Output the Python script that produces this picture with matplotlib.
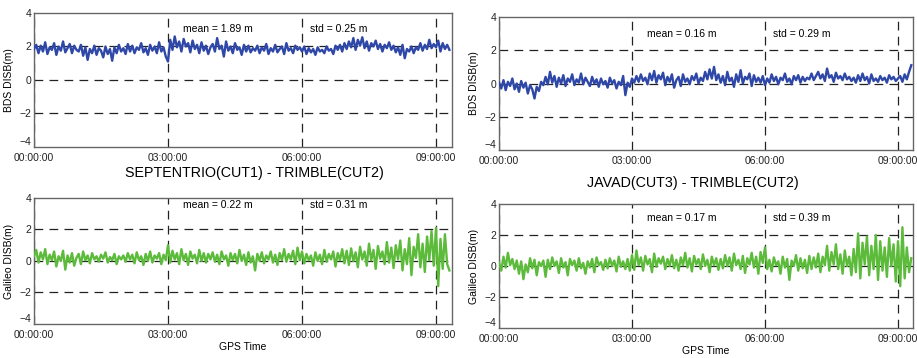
import numpy as np
import matplotlib
matplotlib.use("Agg")
import matplotlib.pyplot as plt
from matplotlib.ticker import FuncFormatter

plt.rcParams['font.family'] = ['Liberation Sans', 'DejaVu Sans']

# values sampled every 3 minutes (0.05 h)
bds_sept = [
    1.85,2.10,1.60,2.05,1.70,2.25,1.55,1.95,1.80,2.20,1.50,2.00,1.75,2.30,1.65,1.90,2.15,1.60,2.05,1.80,
    1.70,2.10,1.45,1.95,1.20,1.85,1.60,2.05,1.50,1.90,1.75,1.35,2.00,1.55,1.85,1.15,1.95,1.60,2.10,1.70,
    1.90,1.55,2.15,1.70,2.05,1.60,1.95,1.80,2.20,1.65,1.90,1.50,2.10,1.75,2.00,1.60,2.25,1.70,1.95,1.40,
    1.10,2.40,1.80,2.60,1.95,2.30,1.70,2.45,2.00,2.20,1.65,2.35,1.85,2.10,1.60,2.25,1.75,2.05,1.55,1.95,
    2.15,1.70,2.50,1.85,2.05,1.40,2.30,1.75,2.00,1.60,2.20,1.80,1.95,1.50,2.10,1.70,2.05,1.65,1.90,1.75,
    2.05,1.60,1.95,1.75,2.15,1.55,1.90,1.70,2.10,1.65,1.85,2.00,1.55,2.20,1.75,1.90,1.60,2.05,1.80,1.95,
    1.70,2.00,1.55,1.90,1.65,1.85,1.50,1.95,1.70,1.80,1.60,2.00,1.75,1.85,1.55,2.05,1.80,2.10,1.70,2.20,
    1.85,2.30,1.95,2.50,1.80,2.40,2.05,2.55,1.90,2.30,1.75,2.20,2.00,2.35,1.85,2.15,1.70,2.10,1.90,2.25,
    1.80,2.05,1.65,1.95,1.50,2.10,1.30,1.85,1.70,2.00,1.60,1.95,1.80,2.20,1.75,2.10,1.85,2.40,1.90,2.15,
    1.95,2.35,1.70,2.20,1.85,2.10,1.80]

bds_javad = [
    0.05,-0.30,0.20,-0.40,0.10,-0.15,0.30,-0.35,0.00,-0.50,0.15,-0.25,0.05,-0.60,-0.10,-0.35,-0.90,-0.20,-0.45,0.10,
    -0.10,0.40,-0.05,0.70,0.05,0.45,-0.20,0.35,0.00,0.50,-0.15,0.30,0.10,0.55,-0.10,0.25,0.05,0.60,-0.05,0.35,
    0.10,-0.15,0.40,0.00,0.25,-0.20,0.30,-0.05,0.15,-0.25,0.35,0.00,0.20,-0.30,0.10,-0.10,0.45,-0.70,0.05,-0.20,
    0.30,0.05,0.45,0.10,0.55,0.15,0.35,-0.05,0.60,0.20,0.75,0.05,0.50,0.25,0.65,-0.10,0.40,0.10,0.55,-0.25,
    0.20,0.40,-0.15,0.55,0.10,0.30,-0.05,0.45,0.20,0.60,0.00,0.35,0.15,0.70,0.25,0.85,0.30,1.00,0.20,0.55,
    0.05,0.45,-0.10,0.70,0.15,0.35,-0.20,0.55,0.10,0.80,0.00,0.40,0.25,0.60,-0.15,0.50,0.10,0.35,0.05,0.45,
    -0.10,0.30,0.05,0.55,0.15,0.40,-0.05,0.35,0.20,0.60,0.10,0.30,-0.05,0.45,0.20,0.50,0.05,0.40,0.15,0.35,
    0.25,0.60,0.20,0.45,0.70,0.30,0.55,0.15,0.90,0.35,0.50,0.10,0.65,0.30,0.45,0.20,0.60,0.25,0.40,0.15,
    0.35,0.05,0.50,0.15,0.60,0.20,0.40,0.00,0.55,0.15,0.30,0.10,0.45,0.20,0.35,0.05,0.50,0.25,0.40,0.15,
    0.30,0.45,0.10,0.55,0.25,0.70,1.10]

gal_sept = [
    0.30,0.70,-0.10,0.55,0.10,0.75,-0.20,0.40,0.05,0.60,-0.35,0.30,0.00,0.65,-0.55,0.35,-0.10,0.50,-0.30,0.20,
    0.45,-0.20,0.60,0.05,0.35,-0.15,0.50,0.10,0.30,-0.05,0.40,0.15,0.55,-0.10,0.25,0.05,0.45,-0.20,0.30,0.10,
    0.35,-0.05,0.50,0.10,0.40,-0.15,0.55,0.05,0.30,-0.25,0.45,0.00,0.60,-0.10,0.35,0.15,0.50,-0.20,0.40,0.05,
    1.00,-0.10,0.65,0.10,0.50,-0.20,0.75,0.05,0.45,-0.25,0.60,0.15,0.40,-0.15,0.70,0.00,0.50,-0.10,0.45,0.10,
    0.55,-0.05,0.40,-0.20,0.60,0.10,0.35,-0.30,0.50,0.05,0.45,-0.15,0.70,0.00,0.40,-0.25,0.55,-0.10,0.30,-0.60,
    0.45,0.00,0.55,-0.15,0.35,0.10,0.60,-0.10,0.40,-0.25,0.50,0.05,0.75,-0.05,0.45,0.10,0.65,-0.20,0.85,0.05,
    0.60,-0.15,0.45,0.05,0.35,-0.30,0.55,0.00,0.40,-0.20,0.70,-0.05,0.45,0.10,0.60,-0.35,0.50,0.05,0.75,-0.15,
    0.65,-0.25,0.80,0.00,0.55,-0.40,0.90,0.10,0.60,-0.30,1.10,0.05,0.70,-0.50,0.95,0.15,0.60,-0.20,1.20,-0.10,
    0.85,-0.45,1.00,0.10,1.30,-0.60,0.75,-0.20,1.45,-0.90,0.90,0.20,1.70,-0.40,1.10,-0.70,1.55,0.05,1.90,-0.30,
    2.10,-1.60,1.40,-0.50,1.70,-0.20,-0.60]

gal_javad = [
    0.20,-0.30,0.60,-0.10,0.85,0.05,0.45,-0.20,0.35,-0.50,0.30,-0.85,0.10,-0.40,0.50,-0.15,0.40,-0.60,0.25,0.00,
    0.35,-0.70,0.40,-0.20,0.55,0.00,0.30,-0.45,0.50,-0.10,0.25,-0.60,0.45,0.05,0.35,-0.30,0.50,-0.15,0.20,-0.50,
    0.30,-0.10,0.45,-0.40,0.55,0.05,0.25,-0.25,0.40,-0.15,0.50,0.00,0.35,-0.35,0.60,-0.05,0.30,-0.20,0.45,-0.30,
    0.70,-0.25,1.00,0.05,0.55,-0.30,0.65,0.10,0.45,-0.40,0.80,-0.05,0.50,0.15,0.60,-0.20,0.45,0.00,0.70,-0.15,
    0.40,-0.30,0.55,0.05,0.85,-0.10,0.50,-0.35,0.65,0.10,0.45,-0.20,0.75,0.00,0.40,-0.40,0.60,0.05,0.50,-0.25,
    0.45,-0.15,0.70,0.00,0.55,-0.30,0.80,0.05,0.40,-0.20,0.65,-0.45,0.50,0.10,0.85,-0.10,0.60,-0.50,0.90,0.20,
    1.20,-0.20,0.40,-0.35,0.55,0.05,0.30,-0.50,0.60,-0.10,0.45,-0.90,0.35,0.00,0.70,-0.30,0.50,-0.15,0.40,-0.45,
    0.65,-0.20,0.55,-0.10,0.80,-0.40,0.60,0.05,1.30,-0.30,0.90,0.10,1.40,-0.20,0.75,-0.50,1.00,0.00,0.60,-0.60,
    1.10,-0.40,2.10,-0.80,1.50,0.10,1.90,-0.60,1.30,-0.20,2.00,-0.90,1.60,-0.30,1.20,-0.70,1.80,0.00,1.40,-1.00,
    1.60,-1.30,2.50,-0.80,1.20,-0.40,0.50]

step_h = 0.05
x_ticks = [0, 3, 6, 9]
x_tick_labels = ["00:00:00", "03:00:00", "06:00:00", "09:00:00"]
y_ticks = [-4, -2, 0, 2, 4]

panels = [
    dict(data=bds_sept, color="#2f48a8", ylabel="BDS DISB(m)", mean="mean = 1.89 m", std="std = 0.25 m",
         rect=[0.0371, 0.5894, 0.4558, 0.3743], xmax=9.358, ty=3.05, xlabel=None),
    dict(data=bds_javad, color="#2f48a8", ylabel="BDS DISB(m)", mean="mean = 0.16 m", std="std = 0.29 m",
         rect=[0.5442, 0.5810, 0.4515, 0.3715], xmax=9.34, ty=2.97, xlabel=None),
    dict(data=gal_sept, color="#5dbb3c", ylabel="Galileo DISB(m)", mean="mean = 0.22 m", std="std = 0.31 m",
         rect=[0.0371, 0.0950, 0.4558, 0.3520], xmax=9.358, ty=3.55, xlabel="GPS Time"),
    dict(data=gal_javad, color="#5dbb3c", ylabel="Galileo DISB(m)", mean="mean = 0.17 m", std="std = 0.39 m",
         rect=[0.5442, 0.0838, 0.4515, 0.3464], xmax=9.34, ty=3.07, xlabel="GPS Time"),
]

fig = plt.figure(figsize=(9.17, 3.58), dpi=100)
fmt = FuncFormatter(lambda v, p: x_tick_labels[x_ticks.index(int(round(v)))] if int(round(v)) in x_ticks else "")

for p in panels:
    ax = fig.add_axes(p["rect"])
    y = np.array(p["data"])
    x = np.arange(len(y)) * step_h
    ax.plot(x, y, color=p["color"], lw=1.7, zorder=3)
    ax.set_xlim(0, p["xmax"])
    ax.set_ylim(-4, 4)
    ax.set_xticks(x_ticks)
    ax.xaxis.set_major_formatter(fmt)
    ax.set_yticks(y_ticks)
    ax.tick_params(length=0, labelsize=7.5, colors="#222222")
    ax.tick_params(axis="x", pad=4)
    ax.tick_params(axis="y", pad=2)
    for lab in ax.get_yticklabels():
        if lab.get_text() in ("-4", "−4"):
            lab.set_va("bottom")
    for gx in x_ticks:
        ax.axvline(gx, color="#222222", lw=0.9, ls=(0, (7, 5)), zorder=2)
    for gy in [-2, 0, 2]:
        ax.axhline(gy, color="#222222", lw=0.9, ls=(0, (7, 5)), zorder=2)
    for s in ax.spines.values():
        s.set_color("#666666")
        s.set_linewidth(1.0)
    ax.set_ylabel(p["ylabel"], fontsize=7.5, labelpad=4)
    if p["xlabel"]:
        ax.set_xlabel(p["xlabel"], fontsize=7.5, labelpad=2)
    ax.text(3.34, p["ty"], p["mean"], fontsize=7.5, va="center", ha="left")
    ax.text(6.18, p["ty"], p["std"], fontsize=7.5, va="center", ha="left")

fig.text(0.278, 0.518, "SEPTENTRIO(CUT1) - TRIMBLE(CUT2)", fontsize=10.3, ha="center", va="center")
fig.text(0.756, 0.49, "JAVAD(CUT3) - TRIMBLE(CUT2)", fontsize=10.3, ha="center", va="center")

fig.savefig("out.png", dpi=100)
